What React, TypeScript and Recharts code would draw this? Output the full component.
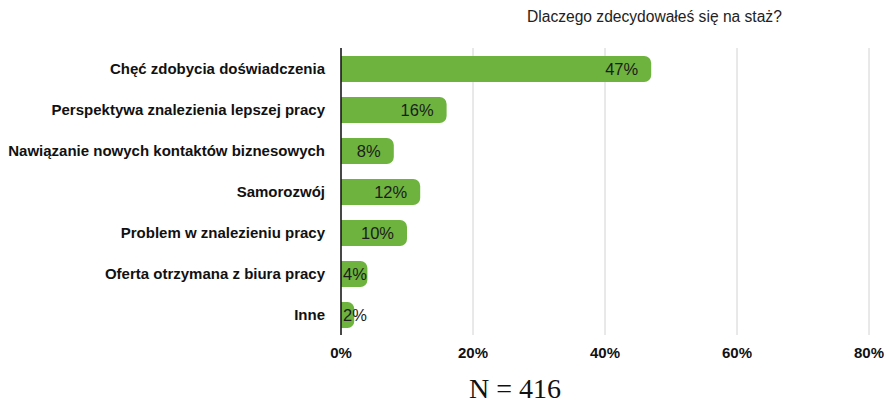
import { BarChart, Bar, XAxis, YAxis, CartesianGrid, LabelList } from "recharts";

const reasons = [
  "Chęć zdobycia doświadczenia",
  "Perspektywa znalezienia lepszej pracy",
  "Nawiązanie nowych kontaktów biznesowych",
  "Samorozwój",
  "Problem w znalezieniu pracy",
  "Oferta otrzymana z biura pracy",
  "Inne",
];
const shares = [47, 16, 8, 12, 10, 4, 2];
const xTicks = [0, 20, 40, 60, 80];

const data = reasons.map((reason, i) => ({ reason, share: shares[i] }));

const font = "'Liberation Sans', Arial, Helvetica, sans-serif";

// value label sits inside the bar's right end, but never starts before the bar
const ValueLabel = (props: any) => {
  const { x, y, width, height, value } = props;
  const textW = String(value).length >= 2 ? 37 : 28;
  const end = x + width - 9;
  const start = Math.max(x + 2, end - textW);
  return (
    <text
      x={start}
      y={y + height / 2}
      dy="0.36em"
      fontSize={16.5}
      fontFamily={font}
      fill="#1c1c1c"
      textAnchor="start"
    >
      {value}%
    </text>
  );
};

export default function App() {
  return (
    <div style={{ position: "absolute", left: 0, top: 0, width: 889, height: 404, background: "#fff" }}>
      <div
        style={{
          position: "absolute",
          left: 527,
          top: 8,
          fontFamily: font,
          fontSize: 15.6,
          color: "#222",
          whiteSpace: "nowrap",
        }}
      >
        Dlaczego zdecydowałeś się na staż?
      </div>
      <BarChart
        width={889}
        height={404}
        data={data}
        layout="vertical"
        margin={{ top: 48, right: 20, bottom: 39, left: 0 }}
        barSize={26}
      >
        <CartesianGrid horizontal={false} stroke="#d2d2d2" />
        <XAxis
          type="number"
          domain={[0, 80]}
          ticks={xTicks}
          tickFormatter={(v: number) => `${v}%`}
          axisLine={false}
          tickLine={false}
          height={30}
          tickMargin={6}
          tick={{ fontSize: 15, fontWeight: "bold", fill: "#111", fontFamily: font }}
        />
        <YAxis
          type="category"
          dataKey="reason"
          width={341}
          axisLine={{ stroke: "#111", strokeWidth: 1.5 }}
          tickLine={false}
          tickMargin={10}
          tick={{ fontSize: 15, fontWeight: "bold", fill: "#111", fontFamily: font }}
        />
        <Bar dataKey="share" fill="#6db33e" radius={[0, 7, 7, 0]} isAnimationActive={false}>
          <LabelList dataKey="share" content={ValueLabel} />
        </Bar>
        <text
          x={515}
          y={398}
          textAnchor="middle"
          fontFamily="'Liberation Serif', 'Times New Roman', serif"
          fontSize={28}
          fill="#111"
        >
          N = 416
        </text>
      </BarChart>
    </div>
  );
}
